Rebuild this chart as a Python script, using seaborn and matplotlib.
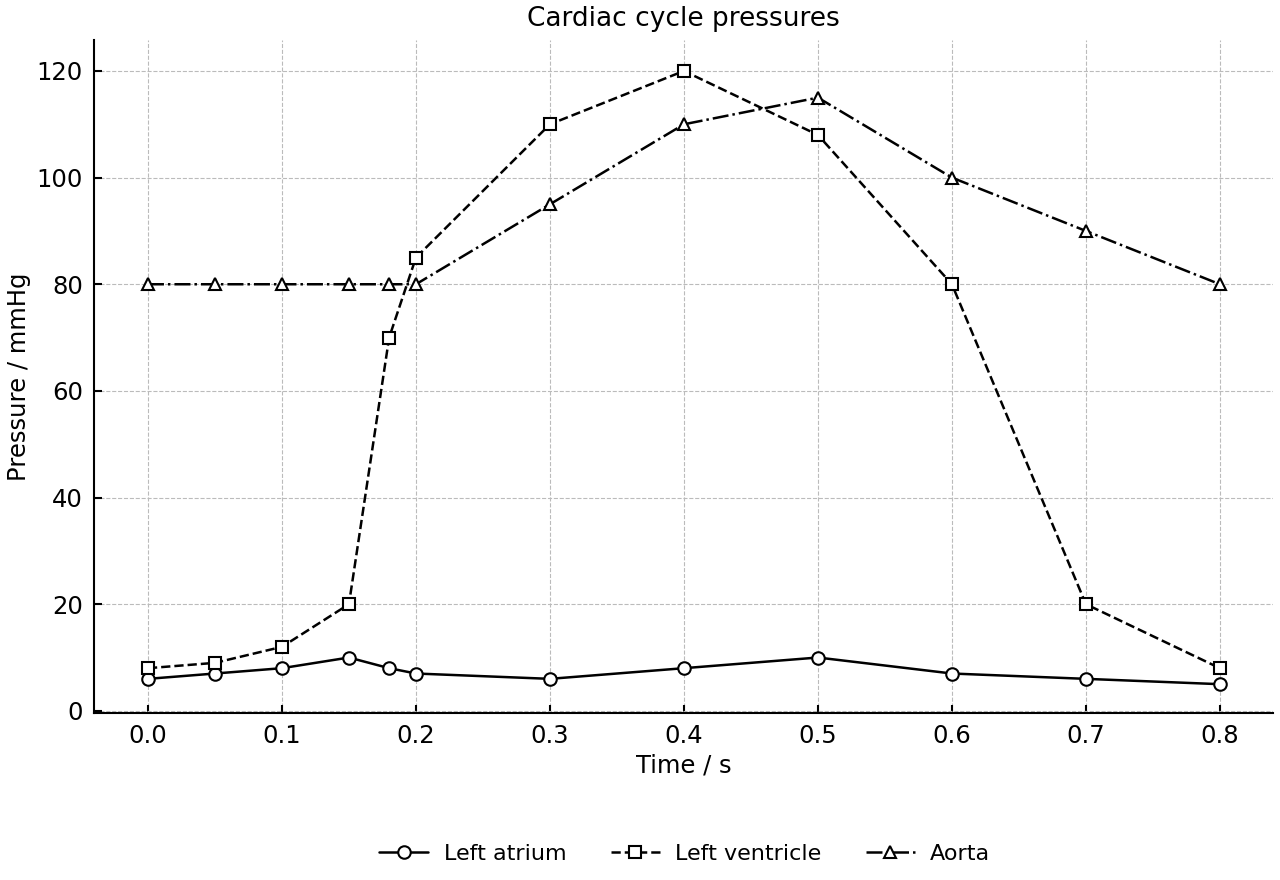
import numpy as np
import pandas as pd
import seaborn as sns
import matplotlib
matplotlib.use("Agg")
import matplotlib.pyplot as plt

time_s = [0.0, 0.05, 0.1, 0.15, 0.18, 0.2, 0.3, 0.4, 0.5, 0.6, 0.7, 0.8]
left_atrium = [6, 7, 8, 10, 8, 7, 6, 8, 10, 7, 6, 5]
left_ventricle = [8, 9, 12, 20, 70, 85, 110, 120, 108, 80, 20, 8]
aorta = [80, 80, 80, 80, 80, 80, 95, 110, 115, 100, 90, 80]

sns.set_theme(style="ticks")
plt.rcParams['font.family'] = ['DejaVu Sans']
plt.rcParams['text.color'] = 'black'
plt.rcParams['axes.labelcolor'] = 'black'

fig = plt.figure(figsize=(12.8, 8.8), dpi=100)
ax = fig.add_axes([0.0734, 0.1898, 0.9211, 0.7647])

series = [
    ("Left atrium", left_atrium, "-", "o"),
    ("Left ventricle", left_ventricle, "--", "s"),
    ("Aorta", aorta, "-.", "^"),
]
for name, vals, ls, mk in series:
    df = pd.DataFrame({"t": time_s, "p": vals})
    sns.lineplot(data=df, x="t", y="p", ax=ax, color="black", linestyle=ls,
                 marker=mk, markersize=9, markerfacecolor="white",
                 markeredgecolor="black", markeredgewidth=1.5, linewidth=1.8,
                 label=name)

ax.set_xlim(-0.0403, 0.8396)
ax.set_ylim(-0.4, 125.8)
ax.set_xticks(np.arange(0, 0.81, 0.1))
ax.set_xticklabels([f"{v:.1f}" for v in np.arange(0, 0.81, 0.1)])
ax.set_yticks([0, 20, 40, 60, 80, 100, 120])
ax.grid(True, linestyle="--", color="#bbbbbb", linewidth=0.8)
ax.set_axisbelow(True)
for s in ["top", "right"]:
    ax.spines[s].set_visible(False)
for s in ["left", "bottom"]:
    ax.spines[s].set_linewidth(1.5)
    ax.spines[s].set_color("black")
ax.tick_params(direction="in", length=6, width=1.5, labelsize=17.5, colors="black", pad=8)
ax.set_xlabel("Time / s", fontsize=17.5, color="black", labelpad=4)
ax.set_ylabel("Pressure / mmHg", fontsize=17.5, color="black", labelpad=4)
ax.set_title("Cardiac cycle pressures", fontsize=19, color="black", pad=10)

ax.legend_.remove()
handles, labels = ax.get_legend_handles_labels()
fig.legend(handles, labels, loc="center", bbox_to_anchor=(0.535, 0.03), ncol=3,
           frameon=False, fontsize=16, columnspacing=2.0, handlelength=2.2,
           handletextpad=0.7)

fig.savefig("out.png", dpi=100)
